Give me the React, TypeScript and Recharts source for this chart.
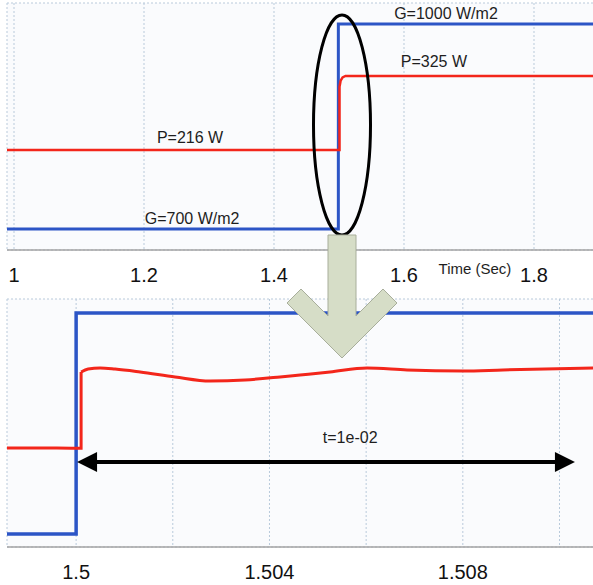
import {
  CartesianGrid,
  Line,
  LineChart,
  ReferenceDot,
  ReferenceLine,
  XAxis,
  YAxis,
} from "recharts";

const FONT = '"Liberation Sans", Arial, Helvetica, sans-serif';
const BLUE = "#2c55c6";
const RED = "#f3261b";
const FRAME = "#a3a3a3";
const GRID = "#b9cadb";

// top panel: whole run, time in s, G in W/m2, P in W
const topTicks = [1, 1.2, 1.4, 1.6, 1.8];
const topGTicks = [700, 750, 800, 850, 900, 950, 1000];
const topBlueT = [0.98923, 1.499, 1.499, 1.90154];
const topBlueG = [700, 700, 1000, 1000];
const topRedT = [0.98923, 1.5008, 1.5008, 1.5025, 1.5055, 1.51, 1.90154];
const topRedP = [216, 216, 309, 318, 323, 325, 325];

// bottom panel: zoom on the step
const bottomTicks = [1.5, 1.502, 1.504, 1.506, 1.508, 1.51];
const bottomTickLabels = ["1.5", "", "1.504", "", "1.508", ""];
const bottomGTicks = [700, 800, 900, 1000];
const bottomBlueT = [1.49857, 1.5, 1.5, 1.510838];
const bottomBlueG = [700, 700, 1000, 1000];
const stepT = [1.49857, 1.4996, 1.4999, 1.500103, 1.500103];
const stepP = [216, 216, 215.5, 215.5, 319.4];
const settleT = [
  1.500103, 1.500248, 1.500496, 1.500807, 1.501324, 1.502048, 1.502771,
  1.503495, 1.504219, 1.504633, 1.505253, 1.506019, 1.506846, 1.508004,
  1.508831, 1.510838,
];
const settleP = [
  319.4, 323.4, 324.8, 323.4, 319.4, 312.6, 307.1, 308.5, 312.6, 315.3, 319.4,
  324.8, 322.1, 320.7, 322.1, 324.8,
];

const zip = (t: number[], v: number[]) => t.map((x, i) => ({ t: x, v: v[i] }));

const tickStyle = { fontSize: 20, fill: "#111", fontFamily: FONT };

function textLabel(value: string, size = 16) {
  return { value, position: "center" as const, fontSize: size, fill: "#1e1e1e", fontFamily: FONT };
}

function DoubleArrow(props: any) {
  const { x1, y1, x2, y2 } = props;
  const head = 20;
  const half = 10;
  return (
    <g>
      <line x1={x1 + head - 2} y1={y1} x2={x2 - head + 2} y2={y2} stroke="#000" strokeWidth={4} />
      <polygon points={`${x1},${y1} ${x1 + head},${y1 - half} ${x1 + head},${y1 + half}`} fill="#000" />
      <polygon points={`${x2},${y2} ${x2 - head},${y2 - half} ${x2 - head},${y2 + half}`} fill="#000" />
    </g>
  );
}

function TopChart() {
  return (
    <LineChart width={600} height={300} margin={{ top: 3, right: 0, bottom: 0, left: 7 }}>
      <CartesianGrid
        xAxisId="t"
        yAxisId="g"
        stroke={GRID}
        strokeDasharray="2 2"
        fill="#fafbfd"
      />
      <XAxis
        xAxisId="t"
        dataKey="t"
        type="number"
        domain={[0.98923, 1.90154]}
        allowDataOverflow
        ticks={topTicks}
        tickFormatter={(v) => String(v)}
        height={50}
        tickSize={0}
        tickMargin={18}
        tick={tickStyle}
        axisLine={{ stroke: FRAME, strokeWidth: 1.5 }}
      />
      <XAxis
        xAxisId="edge"
        orientation="top"
        type="number"
        domain={[0.98923, 1.90154]}
        height={0}
        tick={false}
        tickLine={false}
        axisLine={{ stroke: FRAME, strokeWidth: 1.5 }}
      />
      <YAxis
        yAxisId="g"
        type="number"
        domain={[669.3, 1030.7]}
        allowDataOverflow
        ticks={topGTicks}
        width={0}
        tick={false}
        tickLine={false}
        axisLine={{ stroke: FRAME, strokeWidth: 1.5 }}
      />
      <YAxis
        yAxisId="p"
        orientation="right"
        type="number"
        domain={[68.7, 432.5]}
        allowDataOverflow
        width={0}
        tick={false}
        tickLine={false}
        axisLine={false}
      />
      <Line
        xAxisId="t"
        yAxisId="g"
        data={zip(topBlueT, topBlueG)}
        dataKey="v"
        type="linear"
        stroke={BLUE}
        strokeWidth={3}
        dot={false}
        activeDot={false}
        isAnimationActive={false}
      />
      <Line
        xAxisId="t"
        yAxisId="p"
        data={zip(topRedT, topRedP)}
        dataKey="v"
        type="linear"
        stroke={RED}
        strokeWidth={2.5}
        dot={false}
        activeDot={false}
        isAnimationActive={false}
      />
      <ReferenceDot xAxisId="t" yAxisId="p" x={1.2708} y={235} r={0} fill="none" stroke="none" label={textLabel("P=216 W")} />
      <ReferenceDot xAxisId="t" yAxisId="g" x={1.274} y={716} r={0} fill="none" stroke="none" label={textLabel("G=700 W/m2")} />
      <ReferenceDot xAxisId="t" yAxisId="g" x={1.6646} y={1016} r={0} fill="none" stroke="none" label={textLabel("G=1000 W/m2")} />
      <ReferenceDot xAxisId="t" yAxisId="p" x={1.646} y={347} r={0} fill="none" stroke="none" label={textLabel("P=325 W")} />
      <ReferenceDot
        xAxisId="t"
        yAxisId="g"
        x={1.7092}
        y={641.5}
        r={0}
        fill="none"
        stroke="none"
        ifOverflow="visible"
        label={textLabel("Time (Sec)", 15)}
      />
    </LineChart>
  );
}

function BottomChart() {
  return (
    <LineChart width={600} height={289} margin={{ top: 3, right: 0, bottom: 0, left: 7 }}>
      <CartesianGrid
        xAxisId="t"
        yAxisId="g"
        stroke={GRID}
        strokeDasharray="2 2"
        fill="#fafbfd"
      />
      <XAxis
        xAxisId="t"
        dataKey="t"
        type="number"
        domain={[1.49857, 1.510838]}
        allowDataOverflow
        ticks={bottomTicks}
        tickFormatter={(v, i) => bottomTickLabels[i] ?? ""}
        height={38}
        tickSize={0}
        tickMargin={18}
        tick={tickStyle}
        axisLine={{ stroke: FRAME, strokeWidth: 1.5 }}
      />
      <XAxis
        xAxisId="edge"
        orientation="top"
        type="number"
        domain={[1.49857, 1.510838]}
        height={0}
        tick={false}
        tickLine={false}
        axisLine={{ stroke: FRAME, strokeWidth: 1.5 }}
      />
      <YAxis
        yAxisId="g"
        type="number"
        domain={[682.4, 1019]}
        allowDataOverflow
        ticks={bottomGTicks}
        width={0}
        tick={false}
        tickLine={false}
        axisLine={{ stroke: FRAME, strokeWidth: 1.5 }}
      />
      <YAxis
        yAxisId="p"
        orientation="right"
        type="number"
        domain={[81.4, 418.6]}
        allowDataOverflow
        width={0}
        tick={false}
        tickLine={false}
        axisLine={false}
      />
      <Line
        xAxisId="t"
        yAxisId="g"
        data={zip(bottomBlueT, bottomBlueG)}
        dataKey="v"
        type="linear"
        stroke={BLUE}
        strokeWidth={3.5}
        dot={false}
        activeDot={false}
        isAnimationActive={false}
      />
      <Line
        xAxisId="t"
        yAxisId="p"
        data={zip(stepT, stepP)}
        dataKey="v"
        type="linear"
        stroke={RED}
        strokeWidth={3}
        dot={false}
        activeDot={false}
        isAnimationActive={false}
      />
      <Line
        xAxisId="t"
        yAxisId="p"
        data={zip(settleT, settleP)}
        dataKey="v"
        type="monotone"
        stroke={RED}
        strokeWidth={3}
        dot={false}
        activeDot={false}
        isAnimationActive={false}
      />
      <ReferenceLine
        xAxisId="t"
        yAxisId="g"
        segment={[
          { x: 1.50002, y: 797.7 },
          { x: 1.51032, y: 797.7 },
        ]}
        shape={DoubleArrow}
      />
      <ReferenceDot xAxisId="t" yAxisId="g" x={1.50567} y={831.7} r={0} fill="none" stroke="none" label={textLabel("t=1e-02")} />
    </LineChart>
  );
}

export default function App() {
  return (
    <div
      style={{
        position: "absolute",
        left: 0,
        top: 0,
        width: 593,
        height: 585,
        overflow: "hidden",
        background: "#fff",
        fontFamily: FONT,
      }}
    >
      <div style={{ position: "absolute", left: 0, top: 0 }}>
        <TopChart />
      </div>
      <div style={{ position: "absolute", left: 0, top: 296 }}>
        <BottomChart />
      </div>
      <svg
        width={593}
        height={585}
        style={{ position: "absolute", left: 0, top: 0, pointerEvents: "none" }}
      >
        <ellipse cx={342} cy={125} rx={28.5} ry={110} fill="none" stroke="#000" strokeWidth={3} />
        <polygon
          points="328,235 356,235 356,316 383,289 397,303 342,358 287,303 301,289 328,316"
          fill="#d6ddc7"
          stroke="#a8ae9b"
          strokeWidth={1}
        />
      </svg>
    </div>
  );
}
